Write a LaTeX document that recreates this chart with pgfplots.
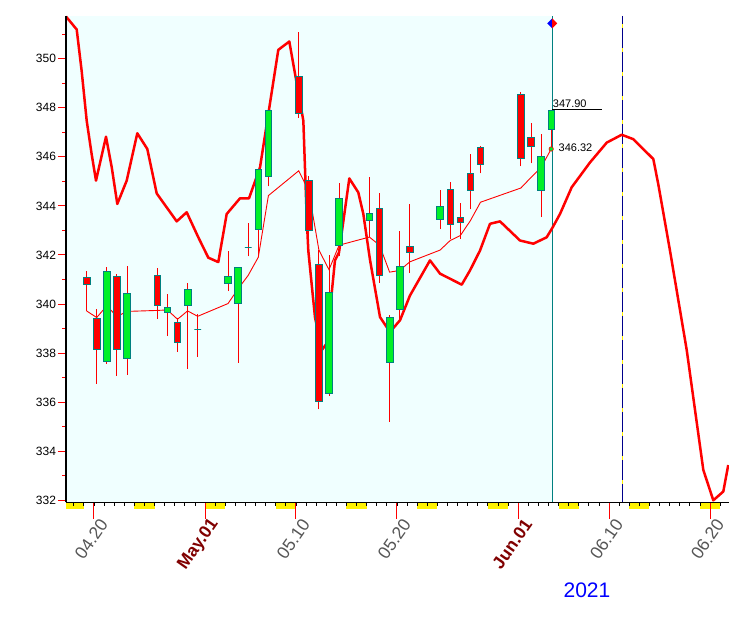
\documentclass[border=0pt]{standalone}
\usepackage{fontspec}
\setmainfont{Liberation Sans}
\usepackage{pgfplots}
\usepackage{pgfplotstable}
\pgfplotsset{compat=1.18}
\definecolor{bgcyan}{RGB}{240,255,255}
\definecolor{candlegreen}{RGB}{0,240,40}
\definecolor{candleborder}{RGB}{0,128,128}
\definecolor{tealline}{RGB}{0,128,128}
\definecolor{navyline}{RGB}{0,0,139}
\definecolor{ticklabelgray}{RGB}{85,85,85}
\definecolor{maroonlabel}{RGB}{128,0,0}

\pgfdeclareplotmark{candle}{%
  \ifdim\hh pt>0pt \pgfsetfillcolor{candlegreen}\else\pgfsetfillcolor{red}\fi
  \pgfpathrectangle{\pgfqpoint{-3.3pt}{0pt}}{\pgfqpoint{6.6pt}{\hh pt}}%
  \pgfusepathqfillstroke
}
\pgfdeclareplotmark{halfdiamond}{%
  \pgfpathmoveto{\pgfqpoint{0pt}{5pt}}\pgfpathlineto{\pgfqpoint{-5pt}{0pt}}%
  \pgfpathlineto{\pgfqpoint{0pt}{-5pt}}\pgfpathclose
  \pgfsetfillcolor{blue}\pgfusepathqfill
  \pgfpathmoveto{\pgfqpoint{0pt}{5pt}}\pgfpathlineto{\pgfqpoint{5pt}{0pt}}%
  \pgfpathlineto{\pgfqpoint{0pt}{-5pt}}\pgfpathclose
  \pgfsetfillcolor{red}\pgfusepathqfill
}

% day: Apr 20 = 20, May 1 = 31, Jun 1 = 62
\pgfplotstableread{
d o h l c
19 341.07 341.33 339.72 340.79
20 339.41 339.81 336.76 338.15
21 337.66 341.53 337.56 341.32
22 341.11 341.21 337.07 338.15
23 337.78 341.57 337.11 340.42
26 341.15 341.45 339.39 339.93
27 339.65 340.41 338.69 339.85
28 339.24 339.45 338.05 338.43
29 339.93 340.84 337.36 340.59
30 338.96 339.61 337.85 338.96
33 340.83 342.17 340.53 341.11
34 340.02 341.50 337.60 341.48
35 342.32 343.32 341.94 342.32
36 343.03 345.50 341.94 345.50
37 345.22 347.91 344.80 347.91
40 349.28 351.08 347.60 347.79
41 345.04 345.23 342.70 342.99
42 341.60 342.20 335.71 336.04
43 336.36 342.00 336.26 340.46
44 342.39 344.93 341.94 344.32
47 343.40 345.16 342.75 343.70
48 343.91 344.52 340.87 341.15
49 337.62 339.54 335.20 339.45
50 339.77 342.96 339.34 341.52
51 342.33 344.09 341.26 342.12
54 343.43 344.66 343.05 343.96
55 344.67 344.99 342.66 343.24
56 343.54 344.11 342.66 343.31
57 345.33 346.11 343.86 344.65
58 346.38 346.45 345.33 345.71
62 348.55 348.66 345.61 345.92
63 346.78 347.36 345.73 346.41
64 344.65 346.93 343.54 346.03
65 347.13 347.90 346.36 347.90
}\candles

\pgfplotstableread{
d v
19 339.72
20 339.45
21 339.93
22 339.49
23 339.70
26 339.74
27 339.76
28 339.38
29 339.72
30 339.50
33 340.02
34 340.62
35 341.17
36 341.91
37 344.42
40 345.43
41 344.60
42 342.20
43 341.40
44 342.40
47 342.73
48 342.40
49 341.30
50 341.37
51 341.72
54 342.20
55 342.59
56 342.79
57 343.40
58 344.15
62 344.73
63 345.16
64 345.57
65 346.32
}\ma

\pgfplotstableread{
d v
16.96 351.72
18.02 351.19
18.51 349.50
19.01 347.47
19.50 346.11
19.93 345.03
20.92 346.82
21.49 345.57
22.04 344.08
22.97 345.03
24.02 346.96
25.01 346.32
25.94 344.51
27.92 343.37
28.91 343.74
30.06 342.72
31.05 341.89
32.04 341.71
32.87 343.67
34.19 344.31
35.08 344.31
36.17 345.57
37.98 350.36
39.07 350.70
40.46 347.47
40.79 343.56
40.95 342.18
41.61 339.47
42.28 338.12
42.77 338.39
43.59 341.78
43.99 342.10
45.01 345.12
45.90 344.55
46.40 343.67
47.06 341.80
48.05 339.47
49.04 338.86
50.03 339.34
51.02 340.35
53.00 341.78
53.99 341.24
56.14 340.79
56.96 341.37
57.95 342.18
58.94 343.27
59.93 343.37
61.91 342.59
63.23 342.46
64.55 342.72
65.15 343.13
65.87 343.67
67.03 344.76
68.84 345.77
70.50 346.58
71.98 346.90
73.13 346.72
74.62 346.11
75.11 345.91
75.60 344.89
76.76 342.18
78.42 338.12
80.06 333.24
81.05 332.00
82.04 332.36
82.53 333.44
}\fc

\begin{document}
\begin{tikzpicture}[x=1pt,y=1pt]
\useasboundingbox (0,0) rectangle (729,625);
\begin{axis}[
  at={(66pt,122.7pt)}, anchor=south west,
  x=10.1pt, y=24.536pt,
  xmin=16.96, xmax=82.60, ymin=331.92, ymax=351.74,
  axis x line*=bottom, axis y line*=left,
  axis line style={black, line width=1.2pt, -},
  axis on top, clip=false,
  tick align=outside,
  major tick length=8pt, minor tick length=3.6pt,
  xtick={19.73,30.73,39.73,49.73,61.73,70.73,80.73},
  xticklabels={04.20,{\bfseries\color{maroonlabel}May.01},05.10,05.20,{\bfseries\color{maroonlabel}Jun.01},06.10,06.20},
  minor xtick={17.73,18.73,...,81.73},
  ytick={332,334,...,350},
  minor ytick={333,335,...,351},
  major y tick style={red, line width=1pt},
  minor y tick style={red, line width=1pt},
  major x tick style={red, line width=1pt},
  minor x tick style={black, line width=0.8pt},
  /pgf/number format/assume math mode=true,
  yticklabel style={font=\fontsize{12}{14}\selectfont, black, xshift=1.5pt},
  xticklabel style={font=\fontsize{17.5}{20}\selectfont, text=ticklabelgray, inner sep=0pt, xshift=10pt, yshift=-11pt, rotate=55, anchor=east},
]
% background of the history part
\fill[bgcyan] (axis cs:16.96,331.92) rectangle (axis cs:65.1,351.74);
% weekend marks under the axis
\fill[yellow] ([yshift=-0.6pt]axis cs:16.96,331.92) rectangle ([yshift=-7pt]axis cs:18.73,331.92);
\pgfplotsinvokeforeach{23.73,30.73,37.73,44.73,51.73,58.73,65.73,72.73,79.73}{
  \fill[yellow] ([yshift=-0.6pt]axis cs:#1,331.92) rectangle ++(20.2pt,-6.4pt);
}
\pgfplotsinvokeforeach{19.73,30.73,39.73,49.73,61.73,70.73,80.73}{
  \draw[red, line width=1pt] (axis cs:#1,331.92) -- ++(0pt,-17pt);
}
% vertical markers
\addplot[tealline, line width=1pt] coordinates {(65.1,331.92) (65.1,351.74)};
\addplot[yellow, line width=1.2pt] coordinates {(72.04,351.74) (72.04,331.92)};
\addplot[navyline, line width=1.2pt, dash pattern=on 20pt off 4pt, dash phase=12pt] coordinates {(72.04,351.74) (72.04,331.92)};
% wicks
\addplot[draw=none, mark=none, error bars/.cd, y dir=plus, y explicit, error mark=none,
  error bar style={draw=red, solid, line width=0.9pt}]
  table[x=d, y=l, y error expr=\thisrow{h}-\thisrow{l}] {\candles};
% bodies
\addplot[only marks, mark=candle, mark options={draw=candleborder, line width=0.8pt, solid},
  visualization depends on={24.536*(\thisrow{c}-\thisrow{o}) \as \hh}]
  table[x=d, y=o] {\candles};
% moving average
\addplot[red, line width=0.9pt] table[x=d, y=v] {\ma};
% forecast curve
\addplot[red, line width=2.5pt, line join=round] table[x=d, y=v] {\fc};
% last values
\addplot[black, line width=0.8pt] coordinates {(65.1,347.92) (70.0,347.92)};
\node[anchor=base west, inner sep=0pt, font=\fontsize{11}{13}\selectfont] at ([xshift=0.5pt]axis cs:65.1,348.03) {347.90};
\node[anchor=base west, inner sep=0pt, font=\fontsize{11}{13}\selectfont] at ([xshift=6.3pt]axis cs:65.1,346.21) {346.32};
\addplot[only marks, mark=*, mark size=2.2pt, mark options={fill=candlegreen, draw=red, line width=0.6pt}] coordinates {(65,346.32)};
\addplot[only marks, mark=halfdiamond] coordinates {(65.1,351.44)};
\end{axis}
\node[font=\fontsize{21}{24}\selectfont, text=blue, inner sep=0pt] at (587,35) {2021};
\end{tikzpicture}
\end{document}
